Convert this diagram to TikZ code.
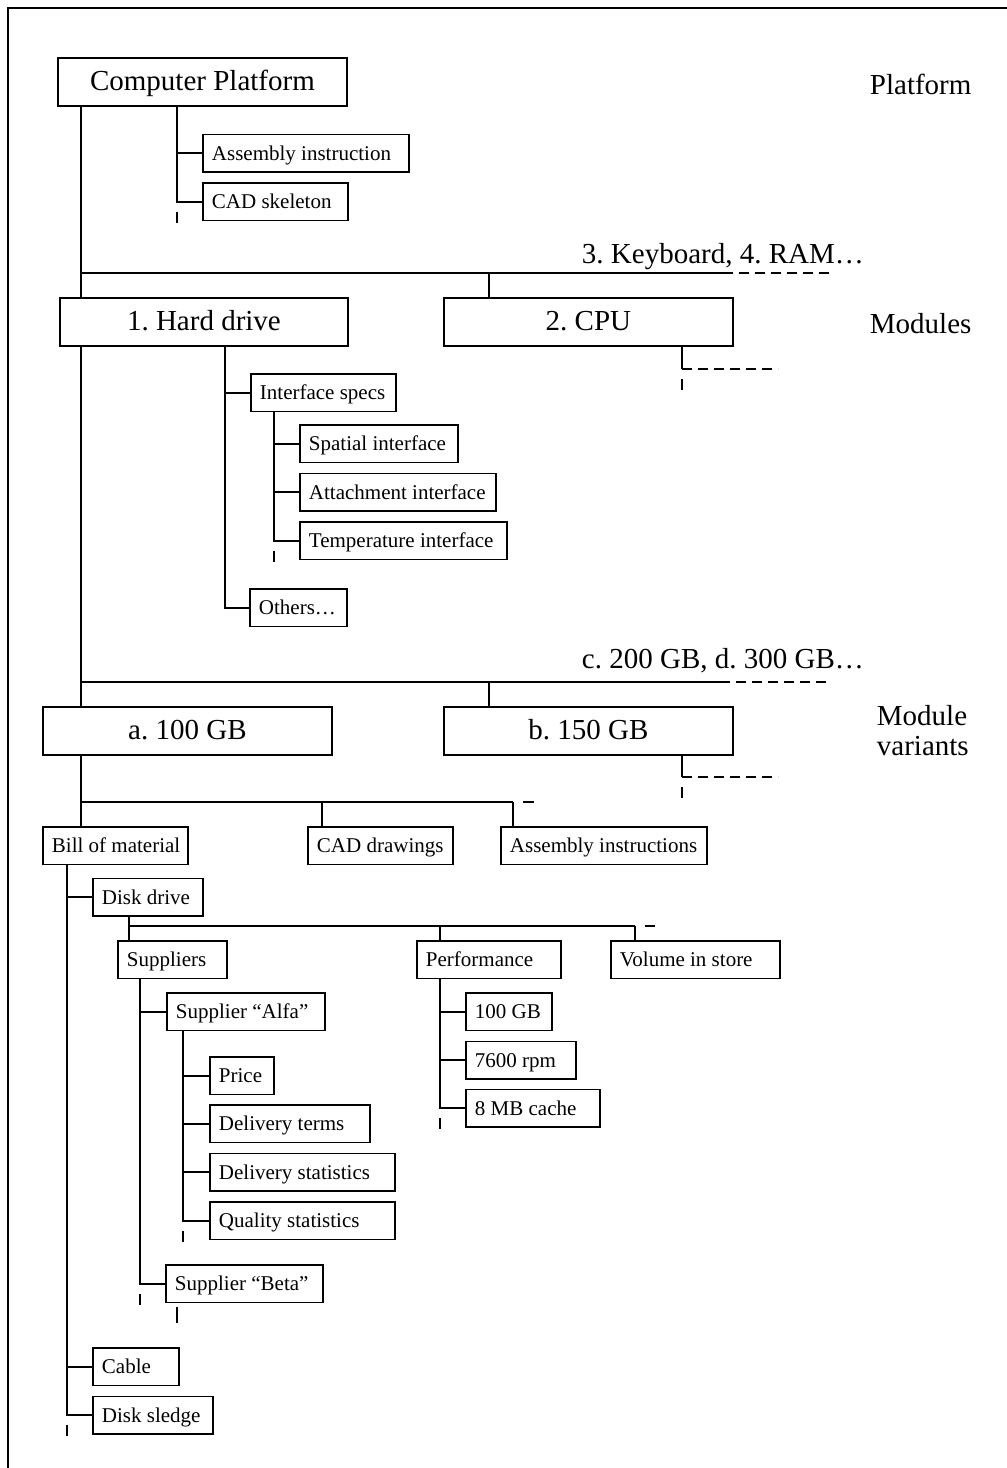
\documentclass[tikz,border=0pt]{standalone}
\usepackage{fontspec}
\setmainfont{Liberation Serif}
\frenchspacing
\newcommand\bigfont{\fontsize{29pt}{34pt}\selectfont}
\newcommand\smallfont{\fontsize{21pt}{25pt}\selectfont}
% left-aligned text of fixed width inside a box
\newcommand\lft[2]{\makebox[#1][l]{#2}}

\begin{document}
\begin{tikzpicture}[x=1pt,y=-1pt,line width=1.9pt,line join=miter,
  bigbox/.style={draw, font=\bigfont, anchor=north west, inner sep=0pt,
    minimum height=48pt, text height=23pt, text depth=5pt},
  smallbox/.style={draw, font=\smallfont, anchor=north west, inner xsep=9pt,
    inner ysep=0pt, minimum height=37.5pt, text height=17pt, text depth=3pt},
  tag/.style={font=\bigfont, inner sep=0pt, anchor=base west},
  dashext/.style={dash pattern=on 10pt off 6pt, dash phase=10pt},
  dashrun/.style={dash pattern=on 10pt off 6pt},
  dashtail/.style={dash pattern=on 11pt off 10pt, dash phase=11pt},
  dashtailshort/.style={dash pattern=on 16pt off 4pt, dash phase=16pt},
]
\useasboundingbox (0,0) rectangle (1007,1468);

% outer frame
\draw[line width=1.7pt] (8,1468) -- (8,8) -- (1007,8);

% ---------- platform level ----------
\node[bigbox, minimum width=289pt] (cp) at (57,57) {Computer Platform};
\node[smallbox] (asm) at (202,133.5) {\lft{188pt}{Assembly instruction}};
\node[smallbox] (cad) at (202,182) {\lft{127pt}{CAD skeleton}};

\node[tag] (lplat) at (869,94) {Platform};
\node[tag] (lmore) at (581,263) {3. Keyboard, 4. RAM…};

% ---------- modules ----------
\node[bigbox, minimum width=288pt] (hd) at (59,297) {1. Hard drive};
\node[bigbox, minimum width=289pt] (cpu) at (443,297) {2. CPU\hspace{22pt}};
\node[tag] (lmod) at (869,333) {Modules};

\node[smallbox] (ifs) at (250,373) {\lft{127pt}{Interface specs}};
\node[smallbox] (spa) at (299,424) {\lft{140pt}{Spatial interface}};
\node[smallbox] (att) at (299,472.5) {\lft{178pt}{Attachment interface}};
\node[smallbox] (tmp) at (299,521) {\lft{189pt}{Temperature interface}};
\node[smallbox] (oth) at (249,588) {\lft{79pt}{Others…}};

\node[tag] (lvar) at (581,668) {c. 200 GB, d. 300 GB…};

% ---------- module variants ----------
\node[bigbox, minimum width=289pt] (va) at (42,706) {a. 100 GB};
\node[bigbox, minimum width=289pt] (vb) at (443,706) {b. 150 GB};
\node[tag] (lmv1) at (876,725) {Module};
\node[tag] (lmv2) at (876,755) {variants};

\node[smallbox] (bom) at (42,826) {\lft{127pt}{Bill of material}};
\node[smallbox] (cdd) at (307,826) {\lft{127pt}{CAD drawings}};
\node[smallbox] (asi) at (500,826) {\lft{188pt}{Assembly instructions}};

\node[smallbox] (dd) at (92,877.5) {\lft{92pt}{Disk drive}};
\node[smallbox] (sup) at (117,940) {\lft{91pt}{Suppliers}};
\node[smallbox] (perf) at (416,940) {\lft{126pt}{Performance}};
\node[smallbox] (vol) at (610,940) {\lft{151pt}{Volume in store}};

\node[smallbox] (alfa) at (166,992) {\lft{140pt}{Supplier “Alfa”}};
\node[smallbox] (price) at (209,1056) {\lft{46pt}{Price}};
\node[smallbox] (dterm) at (209,1104) {\lft{142pt}{Delivery terms}};
\node[smallbox] (dstat) at (209,1152.5) {\lft{167pt}{Delivery statistics}};
\node[smallbox] (qstat) at (209,1201) {\lft{167pt}{Quality statistics}};
\node[smallbox] (beta) at (165,1264) {\lft{139pt}{Supplier “Beta”}};

\node[smallbox] (g100) at (465,992) {\lft{68pt}{100 GB}};
\node[smallbox] (rpm) at (465,1040.5) {\lft{92pt}{7600 rpm}};
\node[smallbox] (cache) at (465,1088.5) {\lft{116pt}{8 MB cache}};

\node[smallbox] (cable) at (92,1347) {\lft{68pt}{Cable}};
\node[smallbox] (sledge) at (92,1395.5) {\lft{102pt}{Disk sledge}};

% ---------- trunk positions and bars ----------
\coordinate (xA) at (81,0);
\coordinate (xCP) at (177,0);
\coordinate (xD) at (489,0);
\coordinate (xC) at (682,0);
\coordinate (xH) at (225,0);
\coordinate (xI) at (274,0);
\coordinate (xCD) at (322,0);
\coordinate (xB) at (67,0);
\coordinate (xDD) at (129,0);
\coordinate (xPF) at (440,0);
\coordinate (xS) at (140,0);
\coordinate (xAl) at (183,0);
\coordinate (xBt) at (177,0);

\coordinate (yB1) at (0,273);
\coordinate (b1end) at (733,273);
\coordinate (b1far) at (831,273);
\coordinate (yC) at (0,369);
\coordinate (cfar) at (778,369);
\coordinate (yB2) at (0,682);
\coordinate (b2end) at (730,682);
\coordinate (b2far) at (827,682);
\coordinate (yV) at (0,777);
\coordinate (vfar) at (778,777);
\coordinate (yB3) at (0,802);
\coordinate (b3end) at (513,802);
\coordinate (b3far) at (535,802);
\coordinate (yB4) at (0,926);
\coordinate (b4end) at (635,926);
\coordinate (b4far) at (655,926);

% platform -> modules
\draw (cp.south -| xA) -- (hd.north -| xA);
\draw (yB1 -| xA) -- (b1end);
\draw[dashext] (b1end) -- (b1far);
\draw (yB1 -| xD) -- (cpu.north -| xD);

% platform documents
\draw (cp.south -| xCP) |- (asm.west);
\draw (cp.south -| xCP) |- (cad.west);
\draw[dashtail] (cad.west -| xCP) -- ++(0,22);

% CPU stub
\draw (cpu.south -| xC) -- (yC -| xC);
\draw[dashtail] (yC -| xC) -- ++(0,21);
\draw[dashrun] (yC -| xC) -- (cfar);

% hard drive documents
\draw (hd.south -| xH) |- (ifs.west);
\draw (hd.south -| xH) |- (oth.west);
\draw (ifs.south -| xI) |- (spa.west);
\draw (ifs.south -| xI) |- (att.west);
\draw (ifs.south -| xI) |- (tmp.west);
\draw[dashtail] (tmp.west -| xI) -- ++(0,22);

% modules -> variants
\draw (hd.south -| xA) -- (va.north -| xA);
\draw (yB2 -| xA) -- (b2end);
\draw[dashext] (b2end) -- (b2far);
\draw (yB2 -| xD) -- (vb.north -| xD);

% variant b stub
\draw (vb.south -| xC) -- (yV -| xC);
\draw[dashtail] (yV -| xC) -- ++(0,21);
\draw[dashrun] (yV -| xC) -- (vfar);

% variant a documents
\draw (va.south -| xA) -- (bom.north -| xA);
\draw (yB3 -| xA) -- (b3end);
\draw[dashtail] (b3end) -- (b3far);
\draw (yB3 -| xCD) -- (cdd.north -| xCD);
\draw (b3end) -- (asi.north -| b3end);

% bill of material
\draw (bom.south -| xB) |- (dd.west);
\draw (bom.south -| xB) |- (cable.west);
\draw (bom.south -| xB) |- (sledge.west);
\draw[dashtail] (sledge.west -| xB) -- ++(0,22);

% disk drive
\draw (dd.south -| xDD) -- (sup.north -| xDD);
\draw (yB4 -| xDD) -- (b4end);
\draw[dashtail] (b4end) -- (b4far);
\draw (yB4 -| xPF) -- (perf.north -| xPF);
\draw (b4end) -- (vol.north -| b4end);

% suppliers
\draw (sup.south -| xS) |- (alfa.west);
\draw (sup.south -| xS) |- (beta.west);
\draw[dashtail] (beta.west -| xS) -- ++(0,21);
\draw (alfa.south -| xAl) |- (price.west);
\draw (alfa.south -| xAl) |- (dterm.west);
\draw (alfa.south -| xAl) |- (dstat.west);
\draw (alfa.south -| xAl) |- (qstat.west);
\draw[dashtail] (qstat.west -| xAl) -- ++(0,22);
\draw[dashtailshort] (beta.south -| xBt) -- ++(0,21);

% performance
\draw (perf.south -| xPF) |- (g100.west);
\draw (perf.south -| xPF) |- (rpm.west);
\draw (perf.south -| xPF) |- (cache.west);
\draw[dashtail] (cache.west -| xPF) -- ++(0,22);
\end{tikzpicture}
\end{document}
